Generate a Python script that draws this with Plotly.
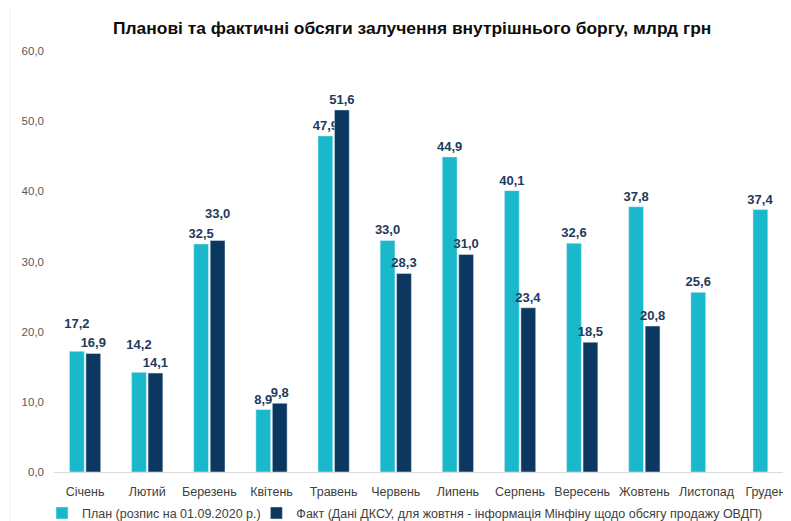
import plotly.graph_objects as go

months = ['Січень', 'Лютий', 'Березень', 'Квітень', 'Травень', 'Червень',
          'Липень', 'Серпень', 'Вересень', 'Жовтень', 'Листопад', 'Грудень']
plan = [17.2, 14.2, 32.5, 8.9, 47.9, 33.0, 44.9, 40.1, 32.6, 37.8, 25.6, 37.4]
fact = [16.9, 14.1, 33.0, 9.8, 51.6, 28.3, 31.0, 23.4, 18.5, 20.8, None, None]

plan_name = 'План (розпис на 01.09.2020 р.)'
fact_name = 'Факт (Дані ДКСУ, для жовтня - інформація Мінфіну щодо обсягу продажу ОВДП)'

# labels that were nudged up in the original so they don't collide
plan_raised = {'Січень', 'Лютий'}
fact_raised = {'Березень'}


def fmt(v):
    return '' if v is None else f'{v:.1f}'.replace('.', ',')


def labels(vals, raised):
    return [fmt(v) + ('<br>&nbsp;' if m in raised else '') for m, v in zip(months, vals)]


TEAL = '#19B9CB'
NAVY = '#0B3760'
LABEL = '#1F3B5C'
label_font = dict(size=13, color=LABEL, family='Liberation Sans', weight='bold')

fig = go.Figure()
fig.add_trace(go.Bar(
    x=months, y=plan, name=plan_name, marker_color=TEAL,
    text=labels(plan, plan_raised), textposition='outside', cliponaxis=False,
    constraintext='none', textfont=label_font, legend='legend',
))
fig.add_trace(go.Bar(
    x=months, y=fact, name=fact_name, marker_color=NAVY,
    text=labels(fact, fact_raised), textposition='outside', cliponaxis=False,
    constraintext='none', textfont=label_font, legend='legend2',
))

legend_style = dict(
    orientation='h', yref='container', y=0.03, yanchor='middle',
    xref='container', xanchor='left', bgcolor='rgba(0,0,0,0)',
    font=dict(size=12.5, color='#404040'), itemwidth=30,
)

# page body has an 8px margin, so everything is offset by 8px
fig.update_layout(
    width=791, height=521,
    margin=dict(l=46, r=8, t=43, b=57, autoexpand=False),
    paper_bgcolor='white', plot_bgcolor='white',
    font=dict(family='Liberation Sans', color='#404040'),
    separators=',.',
    barmode='group', bargap=0.47, bargroupgap=0.1,
    title=dict(
        text='<b>Планові та фактичні обсяги залучення внутрішнього боргу, млрд грн</b>',
        font=dict(size=17.4, color='#0D0D0D'),
        x=0.511, xanchor='center', y=0.962, yanchor='middle',
    ),
    legend=dict(legend_style, x=0.043),
    legend2=dict(legend_style, x=0.314),
    showlegend=True,
)

fig.update_xaxes(
    range=[-0.5, 11.36], showgrid=False, showline=True, linecolor='#D9D9D9',
    linewidth=1, ticks='', tickfont=dict(size=12.5, color='#404040'),
    ticklabelstandoff=8, automargin=False,
)
fig.update_yaxes(
    range=[0, 60], dtick=10, tickformat='.1f', showgrid=False, showline=False,
    zeroline=False, ticks='', tickfont=dict(size=11.5, color='#595959'),
    ticklabelstandoff=9, automargin=False,
)

fig.add_shape(type='line', xref='paper', yref='paper',
              x0=-0.06, x1=-0.06, y0=-0.12, y1=1.12,
              line=dict(color='#F0F0F0', width=1))

fig.write_html('out.html')
